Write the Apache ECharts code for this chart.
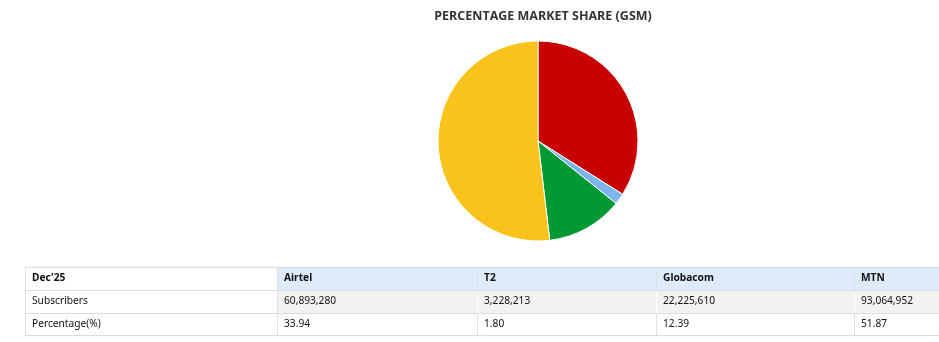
<!DOCTYPE html>
<html><head><meta charset="utf-8">
<script src="https://cdn.jsdelivr.net/npm/echarts@6/dist/echarts.min.js"></script>
<style>html,body{margin:0;padding:0;background:#fff}#c{width:939px;height:342px}</style>
</head><body><div id="c"></div>
<script>
var title = 'PERCENTAGE MARKET SHARE (GSM)';
var period = "Dec'25";
var operators = ['Airtel', 'T2', 'Globacom', 'MTN'];
var subscribers = [60893280, 3228213, 22225610, 93064952];
var percentages = ['33.94', '1.80', '12.39', '51.87'];
var colors = ['#c80000', '#7cb5ec', '#009933', '#f9c31c'];
var rowLabels = ['Subscribers', 'Percentage(%)'];

function fmt(n){ return n.toString().replace(/\B(?=(\d{3})+(?!\d))/g, ','); }

var colX = [25, 277, 477, 656, 854, 960];
var rowY = [267, 290, 313, 335];
var font = '"Noto Sans",sans-serif';
var g = [];
var rows = [[period].concat(operators),
            [rowLabels[0]].concat(subscribers.map(fmt)),
            [rowLabels[1]].concat(percentages)];
for (var r = 0; r < 3; r++) {
  for (var c = 0; c < 5; c++) {
    var fill = '#fff';
    if (r === 0 && c > 0) fill = '#ddebfc';
    if (r === 1 && c > 0) fill = '#f2f2f2';
    g.push({type:'rect', shape:{x:colX[c], y:rowY[r], width:colX[c+1]-colX[c], height:rowY[r+1]-rowY[r]},
      style:{fill:fill, stroke:null}, silent:true});
    g.push({type:'text', x:colX[c]+7, y:(rowY[r]+rowY[r+1])/2,
      style:{text:String(rows[r][c]), fill:'#111', font:(r===0?'bold ':'')+'10.2px '+font, textVerticalAlign:'middle'}, silent:true, z:10});
  }
}
// horizontal lines
for (var i = 0; i < rowY.length; i++) {
  g.push({type:'line', shape:{x1:colX[0], y1:rowY[i]+0.5, x2:960, y2:rowY[i]+0.5}, style:{stroke:'#dcdcdc', lineWidth:1}, silent:true, z:5});
}
// vertical lines
for (var j = 0; j < 5; j++) {
  for (var rr = 0; rr < 3; rr++) {
    var col = '#e0e0e0';
    if (rr === 1 && j > 1) col = '#ffffff';
    g.push({type:'line', shape:{x1:colX[j]+0.5, y1:rowY[rr]+1, x2:colX[j]+0.5, y2:rowY[rr+1]}, style:{stroke:col, lineWidth:1}, silent:true, z:4});
  }
}

var chart = echarts.init(document.getElementById('c'), null, {renderer:'canvas'});
chart.setOption({
  animation:false,
  title:{text:title, left:538, textAlign:'center', top:5,
    textStyle:{fontSize:12.5, fontWeight:'bold', color:'#333', fontFamily:'"Open Sans",sans-serif'}},
  series:[{
    type:'pie', center:[538,141], radius:100, startAngle:90, clockwise:true,
    label:{show:false}, labelLine:{show:false},
    itemStyle:{borderColor:'#fff', borderWidth:1},
    data: operators.map(function(n,i){ return {name:n, value:subscribers[i], itemStyle:{color:colors[i]}}; })
  }],
  graphic:g
});
</script></body></html>
